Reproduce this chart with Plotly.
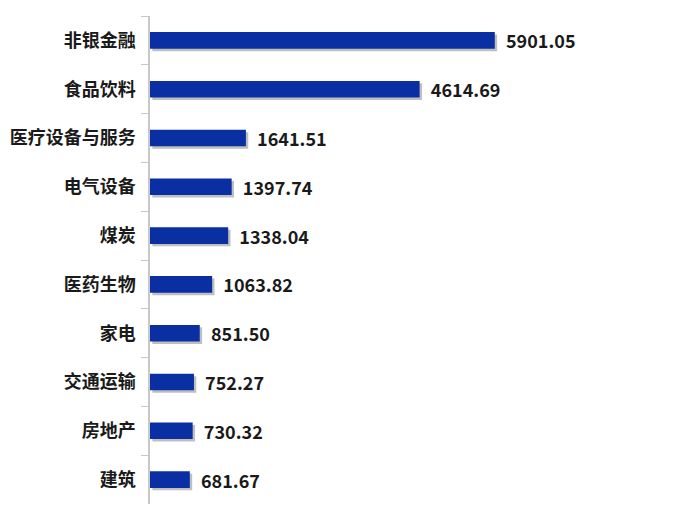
import plotly.graph_objects as go

categories = ["非银金融", "食品饮料", "医疗设备与服务", "电气设备", "煤炭",
              "医药生物", "家电", "交通运输", "房地产", "建筑"]
values = [5901.05, 4614.69, 1641.51, 1397.74, 1338.04,
          1063.82, 851.50, 752.27, 730.32, 681.67]

bar_color = "#0A2FA3"
font_cjk = "Noto Sans CJK SC, Microsoft YaHei, sans-serif"

fig = go.Figure()

# soft drop shadow under each bar
fig.add_trace(go.Bar(
    y=categories, x=values, orientation="h",
    base=40, width=0.34, offset=-0.12,
    marker=dict(color="rgba(0,0,0,0.25)", line=dict(width=0)),
    hoverinfo="skip", showlegend=False,
))

fig.add_trace(go.Bar(
    y=categories, x=values, orientation="h",
    width=0.34, offset=-0.17,
    marker=dict(color=bar_color, line=dict(width=0)),
    text=[f"\u00a0\u00a0{v:.2f}" for v in values],
    textposition="outside", constraintext="none",
    textfont=dict(family=font_cjk, size=18, color="#1a1a1a", weight="bold"),
    cliponaxis=False,
    showlegend=False,
))

fig.update_layout(
    width=700, height=525,
    margin=dict(l=142, r=149, t=8, b=29),
    paper_bgcolor="white", plot_bgcolor="white",
    barmode="overlay",
    font=dict(family=font_cjk, size=18, color="#1a1a1a"),
)

fig.update_xaxes(range=[0, 7000], visible=False, showgrid=False)
fig.update_yaxes(
    type="category", autorange="reversed", automargin=False,
    showline=True, linecolor="#c8c8c8", linewidth=1.5,
    ticks="outside", tickson="boundaries", ticklen=7, tickcolor="#c8c8c8", tickwidth=1.2,
    tickfont=dict(family=font_cjk, size=18, color="#1a1a1a", weight="bold"),
    ticklabelstandoff=9,
    showgrid=False, zeroline=False,
)

fig.write_html("out.html")
